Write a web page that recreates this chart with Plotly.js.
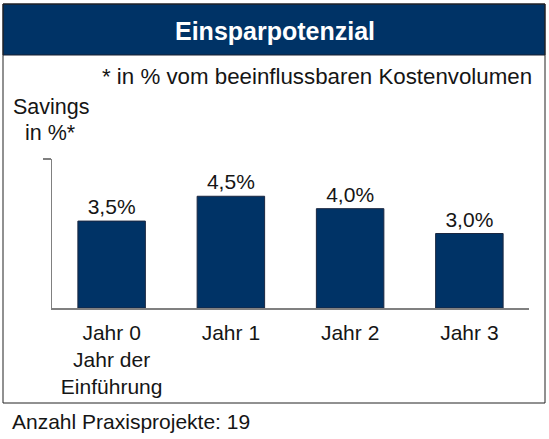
<!DOCTYPE html>
<html>
<head>
<meta charset="utf-8">
<script src="https://cdn.plot.ly/plotly-3.0.1.min.js"></script>
<style>html,body{margin:0;padding:0;background:#fff;}#chart{width:549px;height:439px;}</style>
</head>
<body>
<div id="chart"></div>
<script>
// ---- data ----
const categories = ["Jahr 0<br>Jahr der<br>Einführung", "Jahr 1", "Jahr 2", "Jahr 3"];
const savings = [3.5, 4.5, 4.0, 3.0];
const barLabels = savings.map(v => v.toFixed(1).replace('.', ',') + '%');
const chartTitle = "Einsparpotenzial";
const noteText = "* in % vom beeinflussbaren Kostenvolumen";
const yTitleLines = ["Savings", "in %*"];
const footerText = "Anzahl Praxisprojekte: 19";

// ---- layout helpers (pixel -> paper) ----
const W = 549, H = 439;
const mL = 52, mR = 20, mT = 159, mB = 131;
const pw = W - mL - mR, ph = H - mT - mB;
const px = x => (x - mL) / pw;
const py = y => (H - mB - y) / ph;

const FONT = "Liberation Sans, Arial, sans-serif";
const navy = "#003366";
const ink = "#151515";

const trace = {
  type: "bar",
  x: categories,
  y: savings,
  text: barLabels,
  textposition: "outside",
  textfont: {family: FONT, size: 21, color: ink},
  cliponaxis: false,
  marker: {color: navy, line: {color: "#1a2740", width: 1}},
  hoverinfo: "skip"
};

const layout = {
  width: W, height: H,
  margin: {l: mL, r: mR, t: mT, b: mB, pad: 0},
  paper_bgcolor: "#fff",
  plot_bgcolor: "#fff",
  showlegend: false,
  bargap: 0.434,
  font: {family: FONT, color: ink},
  xaxis: {
    type: "category",
    range: [-0.5, 3.5],
    showline: true, linecolor: "#808080", linewidth: 1.5,
    ticks: "", showgrid: false, zeroline: false,
    ticklabelstandoff: 5,
    tickfont: {family: FONT, size: 21, color: ink},
    fixedrange: true
  },
  yaxis: {
    range: [0, 6],
    showline: true, linecolor: "#808080", linewidth: 1.5,
    tickvals: [6], ticks: "outside", ticklen: 8, tickcolor: "#808080", tickwidth: 1.5,
    showticklabels: false, showgrid: false, zeroline: false,
    fixedrange: true
  },
  shapes: [
    {type: "rect", xref: "paper", yref: "paper",
     x0: px(3), x1: px(545), y0: py(4), y1: py(55),
     fillcolor: navy, line: {color: "#1a2030", width: 1}, layer: "below"},
    {type: "rect", xref: "paper", yref: "paper",
     x0: px(3), x1: px(545), y0: py(4), y1: py(403),
     fillcolor: "rgba(0,0,0,0)", line: {color: "#222", width: 1}, layer: "above"}
  ],
  annotations: [
    {xref: "paper", yref: "paper", x: px(275), y: py(31), xanchor: "center", yanchor: "middle",
     text: "<b>" + chartTitle + "</b>", showarrow: false,
     font: {family: FONT, size: 25, color: "#ffffff"}},
    {xref: "paper", yref: "paper", x: px(534), y: py(76), xanchor: "right", yanchor: "middle",
     text: noteText, showarrow: false, font: {family: FONT, size: 22.3, color: ink}},
    {xref: "paper", yref: "paper", x: px(51), y: py(107), xanchor: "center", yanchor: "middle",
     text: yTitleLines[0], showarrow: false, font: {family: FONT, size: 21.5, color: ink}},
    {xref: "paper", yref: "paper", x: px(50), y: py(133), xanchor: "center", yanchor: "middle",
     text: yTitleLines[1], showarrow: false, font: {family: FONT, size: 21.5, color: ink}},
    {xref: "paper", yref: "paper", x: px(10), y: py(421), xanchor: "left", yanchor: "middle",
     text: footerText, showarrow: false, font: {family: FONT, size: 21, color: ink}}
  ]
};

Plotly.newPlot("chart", [trace], layout, {staticPlot: true, displayModeBar: false});
</script>
</body>
</html>
